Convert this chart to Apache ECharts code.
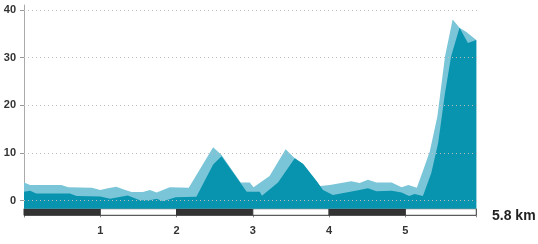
<!DOCTYPE html>
<html><head><meta charset="utf-8">
<script src="https://cdn.jsdelivr.net/npm/echarts@6/dist/echarts.min.js"></script>
<style>html,body{margin:0;padding:0;background:#fff}#c{width:538px;height:244px}</style>
</head><body><div id="c"></div>
<script>
const lightKm=[0.00,0.08,0.49,0.58,0.89,1.00,1.10,1.21,1.30,1.41,1.56,1.65,1.74,1.91,2.16,2.48,2.59,2.84,2.96,3.01,3.22,3.43,3.55,3.66,3.84,3.88,4.01,4.29,4.40,4.51,4.62,4.82,4.95,5.04,5.15,5.23,5.32,5.42,5.52,5.62,5.71,5.80,5.93];
const lightElev=[3.8,3.3,3.3,2.8,2.7,2.25,2.6,2.9,2.4,1.8,1.8,2.25,1.7,2.8,2.7,11.2,9.6,3.8,3.8,2.8,5.2,10.8,8.9,7.7,4.0,3.1,3.3,4.1,3.7,4.4,3.8,3.8,2.8,3.3,2.7,6.25,10.3,17.7,30.3,38.0,36.3,35.4,33.7];
const darkKm=[0.00,0.08,0.16,0.60,0.69,1.00,1.13,1.36,1.52,1.65,1.74,1.82,1.99,2.26,2.48,2.59,2.92,3.09,3.12,3.33,3.55,3.66,3.84,3.92,4.05,4.40,4.51,4.62,4.82,4.95,5.05,5.12,5.23,5.34,5.43,5.52,5.60,5.71,5.82,5.93];
const darkElev=[1.9,2.1,1.5,1.5,1.0,0.9,0.4,1.1,0.1,0.1,0.4,-0.1,0.7,0.85,7.6,9.3,1.9,1.9,1.05,3.8,8.9,7.7,4.0,2.25,1.2,2.25,2.6,2.0,2.1,1.7,1.0,1.4,1.0,5.8,12.1,22.6,30.3,36.3,33.1,33.7];
const segStart=[0,1,2,3,4,5];
const segEnd=[1,2,3,4,5,5.93];
const xTickLabels=['1','2','3','4','5'];
const totalLabel='5.8 km';

const FONT='"Liberation Sans", Arial, sans-serif';
const chart=echarts.init(document.getElementById('c'),null,{renderer:'canvas'});
const option={
  animation:false,
  title:{text:totalLabel,left:487,top:204,textStyle:{fontFamily:FONT,fontSize:14,fontWeight:'bold',color:'#222'}},
  grid:[
    {left:24,top:10,width:453,height:190.7},
    {left:24,top:10,width:452.3,height:198.7},
    {left:24,top:208.7,width:452.3,height:6.6},
    {left:24,top:5,width:452.3,height:212}
  ],
  xAxis:[
    {gridIndex:0,type:'value',min:0,max:1,show:false},
    {gridIndex:1,type:'value',min:0,max:5.93,show:false},
    {gridIndex:2,type:'value',min:0,max:5.93,interval:1,
      axisLine:{show:false},splitLine:{show:false},
      axisTick:{show:true,length:2,lineStyle:{color:'#888'}},
      axisLabel:{margin:10,fontFamily:FONT,fontSize:11,fontWeight:'bold',color:'#333',
        formatter:v=>{const s=String(v);return xTickLabels.indexOf(s)>=0?s:'';}}},
    {gridIndex:3,type:'value',min:0,max:1,show:false}
  ],
  yAxis:[
    {gridIndex:0,type:'value',min:0,max:40,interval:10,z:5,
      axisLine:{show:false},
      axisTick:{show:true,length:4,lineStyle:{color:'#999'}},
      axisLabel:{margin:8,fontFamily:FONT,fontSize:11,fontWeight:'bold',color:'#333'},
      splitLine:{show:true,lineStyle:{color:'#bbb',type:[1,3],width:1}}},
    {gridIndex:1,type:'value',min:-1.68,max:40,show:false},
    {gridIndex:2,type:'value',min:0,max:1,show:false},
    {gridIndex:3,type:'value',min:0,max:1,axisLine:{show:true,lineStyle:{color:'#aaa'}},
      axisTick:{show:false},axisLabel:{show:false},splitLine:{show:false}}
  ],
  series:[
    {type:'line',xAxisIndex:1,yAxisIndex:1,symbol:'none',lineStyle:{width:0},
      areaStyle:{origin:'start',color:'#7ac5d7',opacity:1},
      data:lightKm.map((k,i)=>[k,lightElev[i]])},
    {type:'line',xAxisIndex:1,yAxisIndex:1,symbol:'none',lineStyle:{width:0},
      areaStyle:{origin:'start',color:'#0893ae',opacity:1},
      data:darkKm.map((k,i)=>[k,darkElev[i]])},
    {type:'custom',xAxisIndex:2,yAxisIndex:2,
      data:segStart.map((s,i)=>[s,segEnd[i],i]),
      renderItem:(params,api)=>{
        const a=api.coord([api.value(0),1]);
        const b=api.coord([api.value(1),0]);
        return {type:'rect',shape:{x:a[0],y:a[1],width:b[0]-a[0],height:b[1]-a[1]},
          style:{fill:api.value(2)%2?'#fff':'#333',stroke:'#333',lineWidth:1}};
      }}
  ]
};
chart.setOption(option);
</script>
</body></html>
